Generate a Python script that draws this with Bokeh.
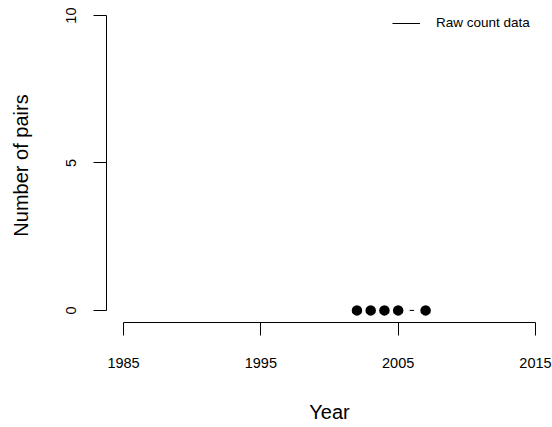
from bokeh.plotting import figure
from bokeh.models import Range1d, FixedTicker, Legend, LegendItem
from bokeh.embed import file_html
from bokeh.resources import INLINE

years = [2002, 2003, 2004, 2005, 2007]
pairs = [0, 0, 0, 0, 0]
x_ticks = [1985, 1995, 2005, 2015]
y_ticks = [0, 5, 10]
series_label = "Raw count data"

FONT = "Liberation Sans"

p = figure(width=552, height=427, output_backend="svg", toolbar_location=None,
           x_range=Range1d(1983.76, 2016.24), y_range=Range1d(-0.41, 10.24),
           min_border_left=106, min_border_right=0, min_border_top=8, min_border_bottom=105)

line_r = p.line(years, pairs, line_color="black", line_width=1)
p.scatter(years, pairs, size=23, fill_color="white", line_color=None)
p.scatter(years, pairs, size=10.5, fill_color="black", line_color=None)

p.xgrid.visible = False
p.ygrid.visible = False
p.outline_line_color = None
p.background_fill_color = "white"
p.border_fill_color = "white"

for ax in (p.xaxis[0], p.yaxis[0]):
    ax.major_tick_in = 0
    ax.major_tick_out = 13
    ax.minor_tick_in = 0
    ax.minor_tick_out = 0
    ax.axis_line_color = "black"
    ax.major_tick_line_color = "black"
    ax.major_label_text_color = "black"
    ax.major_label_text_font = FONT
    ax.major_label_text_font_size = "14.5px"
    ax.axis_label_text_font = FONT
    ax.axis_label_text_font_size = "20px"
    ax.axis_label_text_font_style = "normal"
    ax.axis_label_text_color = "black"

p.xaxis.ticker = FixedTicker(ticks=x_ticks)
p.xaxis.bounds = (x_ticks[0], x_ticks[-1])
p.xaxis.axis_label = "Year"
p.xaxis.major_label_standoff = 22
p.xaxis.axis_label_standoff = 30

p.yaxis.ticker = FixedTicker(ticks=y_ticks)
p.yaxis.bounds = (y_ticks[0], y_ticks[-1])
p.yaxis.axis_label = "Number of pairs"
p.yaxis.major_label_orientation = "vertical"
p.yaxis.major_label_standoff = 17
p.yaxis.axis_label_standoff = 32

legend = Legend(items=[LegendItem(label=series_label, renderers=[line_r])],
                location=(286, 292), padding=0, margin=0,
                glyph_width=28, glyph_height=12, label_height=12,
                label_standoff=16, label_text_font=FONT,
                label_text_font_size="13.5px", label_text_color="black",
                border_line_alpha=0, background_fill_alpha=0)
p.add_layout(legend)

open("out.html", "w").write(file_html(p, INLINE))
